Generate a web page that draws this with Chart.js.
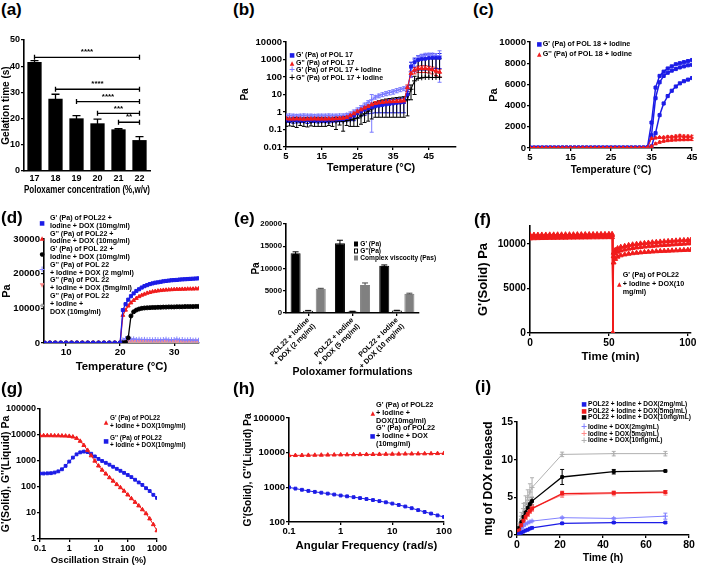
<!DOCTYPE html>
<html lang="en">
<head>
<meta charset="UTF-8">
<title>Poloxamer hydrogel: gelation and rheology</title>
<script src="https://cdn.jsdelivr.net/npm/chart.js"></script>
<style>
  body { margin:0; width:707px; height:567px; position:relative; overflow:hidden; background:#fff;
         font-family:"Liberation Sans", Arial, sans-serif; font-weight:bold; color:#000; }
  canvas { position:absolute; }
  .tag { position:absolute; font-size:17px; line-height:17px; }
  .leg { position:absolute; white-space:nowrap; }
  .it { position:relative; padding-left:var(--pad); }
  .mk { position:absolute; left:var(--mx); top:50%; transform:translate(-50%,-50%);
        font-family:"DejaVu Sans", sans-serif; font-size:6px; line-height:6px; }
  .bx { display:block; width:4px; height:5px; box-sizing:border-box; }
</style>
</head>
<body>
<div class="tag" style="left:1px;top:1px">(a)</div>
<div class="tag" style="left:233px;top:1px">(b)</div>
<div class="tag" style="left:473px;top:1px">(c)</div>
<div class="tag" style="left:1px;top:209px">(d)</div>
<div class="tag" style="left:234px;top:210px">(e)</div>
<div class="tag" style="left:474px;top:211px">(f)</div>
<div class="tag" style="left:1px;top:380px">(g)</div>
<div class="tag" style="left:233px;top:380px">(h)</div>
<div class="tag" style="left:475px;top:378px">(i)</div>

<div class="leg" style="left:290px;top:51px;font-size:7px;line-height:7.7px;--mx:2px;--pad:6px">
  <div class="it"><span class="mk" style="color:#1c1ce6">■</span>G' (Pa) of POL 17</div>
  <div class="it"><span class="mk" style="color:#f01c1c">▲</span>G'' (Pa) of POL 17</div>
  <div class="it"><span class="mk" style="color:#7a7aff;font-size:8px">+</span>G' (Pa) of POL 17 + Iodine</div>
  <div class="it"><span class="mk" style="color:#000;font-size:8px">+</span>G'' (Pa) of POL 17 + Iodine</div>
</div>

<div class="leg" style="left:537px;top:39px;font-size:7.2px;line-height:10px;--mx:2.3px;--pad:5.7px">
  <div class="it"><span class="mk" style="color:#1c1ce6">■</span>G' (Pa) of POL 18 + Iodine</div>
  <div class="it"><span class="mk" style="color:#f01c1c">▲</span>G'' (Pa) of POL 18 + Iodine</div>
</div>

<div class="leg" style="left:40px;top:215px;font-size:7.1px;line-height:7.8px;--mx:2px;--pad:10px">
  <div class="it"><span class="mk" style="color:#1c1ce6">■</span>G' (Pa) of POL22 +<br>Iodine + DOX (10mg/ml)</div>
  <div class="it"><span class="mk" style="color:#f01c1c">▲</span>G'' (Pa) of POL22 +<br>Iodine + DOX (10mg/ml)</div>
  <div class="it"><span class="mk" style="color:#000">●</span>G' (Pa) of POL 22 +<br>Iodine + DOX (10mg/ml)</div>
  <div class="it"><span class="mk" style="color:#8282ff;font-size:8px">+</span>G'' (Pa) of POL 22<br>+ Iodine + DOX (2 mg/ml)</div>
  <div class="it"><span class="mk" style="color:#ff8a8a">▼</span>G'' (Pa) of POL 22<br>+ Iodine + DOX (5mg/ml)</div>
  <div class="it"><span class="mk" style="color:#a8a8a8">◆</span>G'' (Pa) of POL 22<br>+ Iodine +<br>DOX (10mg/ml)</div>
</div>

<div class="leg" style="left:354px;top:240px;font-size:6.6px;line-height:7.2px;--mx:2px;--pad:6.3px">
  <div class="it"><span class="mk"><span class="bx" style="background:#000"></span></span>G' (Pa)</div>
  <div class="it"><span class="mk"><span class="bx" style="background:#fff;border:1px solid #000"></span></span>G''(Pa)</div>
  <div class="it"><span class="mk"><span class="bx" style="background:#808080"></span></span>Complex viscocity (Pas)</div>
</div>

<div class="leg" style="left:617px;top:271px;font-size:7.2px;line-height:8.6px;--mx:2.3px;--pad:5.7px">
  <div class="it"><span class="mk" style="color:#f01c1c">▲</span>G' (Pa) of POL22<br>+ Iodine + DOX(10<br>mg/ml)</div>
</div>

<div class="leg" style="left:104px;top:414px;font-size:6.4px;line-height:7.5px;--mx:2px;--pad:6px">
  <div class="it"><span class="mk" style="color:#f01c1c">▲</span>G' (Pa) of POL22<br>+ Iodine + DOX(10mg/ml)</div>
  <div class="it" style="margin-top:4.5px"><span class="mk" style="color:#1c1ce6">■</span>G'' (Pa) of POL22<br>+ Iodine + DOX(10mg/ml)</div>
</div>

<div class="leg" style="left:370px;top:401px;font-size:7.3px;line-height:7.8px;--mx:2.7px;--pad:6px">
  <div class="it"><span class="mk" style="color:#f01c1c">▲</span>G' (Pa) of POL22<br>+ Iodine +<br>DOX(10mg/ml)</div>
  <div class="it"><span class="mk" style="color:#1c1ce6">■</span>G'' (Pa) of POL22<br>+ Iodine + DOX<br>(10mg/ml)</div>
</div>

<div class="leg" style="left:582px;top:401px;font-size:6.6px;line-height:6.6px;--mx:2px;--pad:6px">
  <div class="it"><span class="mk" style="color:#1c1ce6">■</span>POL22 + Iodine + DOX(2mg/mL)</div>
  <div class="it"><span class="mk" style="color:#f01c1c">■</span>POL22 + Iodine + DOX(5mg/mL)</div>
  <div class="it"><span class="mk" style="color:#000">■</span>POL22 + Iodine + DOX(10mg/mL)</div>
  <div class="it" style="margin-top:3.3px"><span class="mk" style="color:#8282ff;font-size:8px">+</span>Iodine + DOX(2mg/mL)</div>
  <div class="it"><span class="mk" style="color:#ff8a8a;font-size:8px">+</span>Iodine + DOX(5mg/mL)</div>
  <div class="it"><span class="mk" style="color:#b0b0b0;font-size:8px">+</span>Iodine + DOX(10mg/mL)</div>
</div>

<script>
// (a) gelation time
const aConc = ['17', '18', '19', '20', '21', '22'];
const aTime = [41.6, 27.6, 20.1, 18.2, 15.9, 11.8];
const aErr = [0.5, 1.7, 1.0, 1.6, 0.3, 1.3];
const aTicks = [0, 10, 20, 30, 40, 50];
const sigFrom = ['17', '18', '19', '20', '21'];
const sigTo = ['22', '22', '22', '22', '22'];
const sigLevel = [43.4, 31.2, 26.5, 22, 18.6];
const sigText = ['****', '****', '****', '***', '**'];

// (b) POL 17, log scale
const bT = [5,6,7,8,9,10,11,12,13,14,15,16,17,18,19,20,21,22,23,24,25,26,27,28,29,30,31,32,33,34,35,36,37,38,39,40,41,42,43,44,45,46,47,48];
const bGp = [0.36,0.35,0.35,0.34,0.35,0.35,0.34,0.35,0.35,0.34, 0.35,0.35,0.36,0.36,0.37,0.38,0.4,0.45,0.52,0.62, 0.85,1.1,1.35,1.6,1.85,2.1,2.3,2.5,2.7,2.9, 3.1,3.3,3.5,3.7,10,400,700,950,1050,1100, 1200,1250,1250,1250];
const bGpErr = [0.1,0.1,0.12,0.1,0.1,0.1,0.12,0.1,0.1,0.1, 0.1,0.1,0.12,0.1,0.1,0.1,0.12,0.15,0.2,0.3, 0.4,0.5,0.7,0.8,1.0,1.2,1.4,1.6,1.8,2.0, 2.2,2.4,2.6,2.8,5,300,500,700,800,850, 900,950,950,950];
const bGpp = [0.42,0.4,0.4,0.41,0.4,0.39,0.4,0.4,0.41,0.4, 0.4,0.4,0.41,0.4,0.42,0.43,0.45,0.5,0.62,0.8, 1.05,1.35,1.7,2.1,2.6,3.1,3.4,3.6,3.8,3.9, 4.0,4.1,4.2,4.4,25,160,250,300,310,310, 290,260,220,190];
const bGppErr = [0.1,0.1,0.1,0.1,0.1,0.1,0.1,0.1,0.1,0.1, 0.1,0.1,0.1,0.1,0.1,0.1,0.1,0.12,0.15,0.2, 0.3,0.4,0.5,0.6,0.7,0.8,0.9,1,1,1, 1,1.1,1.2,1.3,10,60,100,120,130,130, 120,110,100,90];
const bGpI = [0.6,0.62,0.6,0.58,0.6,0.62,0.6,0.6,0.58,0.6, 0.6,0.6,0.62,0.6,0.6,0.62,0.62,0.68,0.8,1.0, 1.3,1.8,2.5,3.5,5,7,8.5,10,11.5,13, 14.5,17,19.5,22,25,200,700,1200,1500,1750, 1800,1800,1700,1600];
const bGpIErr = [0.15,0.15,0.15,0.15,0.15,0.15,0.15,0.15,0.15,0.15, 0.15,0.15,0.15,0.15,0.15,0.15,0.15,0.15,0.2,0.3, 0.4,0.5,0.7,0.9,4.93,1.5,2,2.5,3,3.5, 4,4.5,5,5.5,6,100,300,400,500,500, 500,500,500,1550];
const bGppI = [0.3,0.28,0.3,0.3,0.29,0.3,0.3,0.28,0.3,0.3, 0.3,0.3,0.29,0.3,0.3,0.3,0.3,0.32,0.35,0.4, 0.45,0.6,0.8,1.1,1.5,2,2.4,2.7,3,3.2, 3.4,3.6,3.8,4,5,20,60,83,90,95, 95,93,95,96];
const bGppIErr = [0.15,0.12,0.15,0.17,0.12,0.15,0.16,0.12,0.15,0.15, 0.15,0.15,0.12,0.15,0.2,0.12,0.22,0.15,0.2,0.25, 0.3,0.4,0.55,0.8,1.1,1.5,1.9,2.2,2.5,2.7, 2.9,3.1,3.3,3.5,4.4,15,50,900,950,1000, 1050,1000,1000,1000];
const bTicksX = [5, 15, 25, 35, 45];
const bTicksY = [0.01, 0.1, 1, 10, 100, 1000, 10000];

// (c) POL 18 + iodine, three runs
const cT = [5,6,7,8,9,10,11,12,13,14,15,16,17,18,19,20,21,22,23,24,25,26,27,28,29,30,31,32,33,34,35,36,37,38,39,40,41,42,43,44,45];
const cGpA = [30,25,30,28,30,32,30,28,30,30, 29,30,31,30,30,28,30,32,30,30, 31,30,29,30,30,31,30,30,32,60, 2400,5700,6800,7200,7500,7700,7900,8000,8100,8200,8300];
const cGpB = [25,28,30,27,30,30,28,29,31,30, 30,29,30,28,30,30,31,30,29,30, 30,31,30,29,30,30,31,30,30,50, 1200,4700,6200,6800,7100,7300,7450,7600,7700,7800,7850];
const cGpC = [20,22,25,24,22,25,23,24,22,25, 24,22,25,23,24,22,25,24,22,25, 23,24,22,25,24,23,22,25,24,30, 150,1400,3100,4200,4900,5400,5800,6100,6300,6450,6600];
const cGppA = [10,12,10,11,10,12,10,11,10,12, 10,11,10,12,10,11,10,12,10,11, 10,12,10,11,10,12,10,11,10,20, 900,950,1000,1000,1050,1050,1100,1150,1100,1100,1100];
const cGppB = [8,9,8,10,8,9,8,10,8,9, 8,10,8,9,8,10,8,9,8,10, 8,9,8,10,8,9,8,10,8,15, 150,400,550,650,700,750,780,800,800,800,800];
const cGppErr = [0,0,0,0,0,0,0,0,0,0, 0,0,0,0,0,0,0,0,0,0, 0,0,0,0,0,0,0,0,0,0, 60,80,90,100,100,110,120,130,120,110,100];
const cTicksX = [5, 15, 25, 35, 45];
const cTicksY = [0, 2000, 4000, 6000, 8000, 10000];

// (d) POL22 + iodine + DOX temperature sweep
const dT = [6,7,8,9,10,11,12,13,14,15,16,17,18,19,20, 20.5,21,21.5,22,22.5,23,23.5,24,24.5,25,25.5,26,26.5,27,27.5,28,28.5,29,29.5,30,30.5,31,31.5,32,32.5,33,33.5,34,34.5];
const dGp10 = [40,35,40,38,40,42,40,38,40,42,40,38,40,45,60, 9500,11200,12500,13500,14300,15000,15500,16000,16400,16700,17000,17200,17400,17500,17650,17800,17900,18000,18100,18150,18200,18300,18350,18400,18450,18500,18550,18600,18650];
const dGpp10 = [30,28,30,32,30,28,30,32,30,28,30,32,30,35,50, 8000,9500,10700,11600,12300,12900,13400,13800,14100,14400,14600,14800,14950,15050,15150,15250,15300,15350,15400,15450,15500,15500,15550,15550,15600,15600,15600,15650,15650];
const dGp10b = [20,22,20,18,20,22,20,18,20,22,20,18,20,22,25, 60,150,1500,7800,9000,9500,9800,10000,10100,10150,10200,10250,10250,10300,10300,10350,10350,10400,10400,10400,10450,10450,10450,10500,10500,10500,10500,10550,10550];
const dGpp2 = [25,28,25,22,25,28,25,22,25,28,25,22,25,28,40, 900,1300,1200,1100,1200,1000,1100,1000,1050,950,1000,900,1000,950,900,1000,1100,900,950,1000,1150,900,1000,850,900,950,800,850,800];
const dGpp5 = [15,18,15,12,15,18,15,12,15,18,15,12,15,18,30, 500,800,750,700,650,700,600,650,700,600,650,600,700,600,650,600,700,650,600,650,600,650,600,550,600,650,600,550,600];
const dGpp10b = [10,12,10,8,10,12,10,8,10,12,10,8,10,12,20, 150,300,250,300,250,200,250,300,200,250,200,250,200,250,200,250,200,250,200,200,250,200,200,250,200,200,250,200,200];
const dTicksX = [10, 20, 30];
const dTicksY = [0, 10000, 20000, 30000];

// (e) moduli and viscosity per formulation
const eLabels = [['POL22 + Iodine', '+ DOX (2 mg/ml)'], ['POL22 + Iodine', '+ DOX (5 mg/ml)'], ['POL22 + Iodine', '+ DOX (10 mg/ml)']];
const eGp = [13450, 15700, 10600];
const eGpErr = [300, 650, 200];
const eGpp = [500, 350, 550];
const eGppErr = [80, 50, 60];
const eVisc = [5450, 6300, 4300];
const eViscErr = [100, 450, 150];
const eTicksY = [0, 5000, 10000, 15000, 20000];

// (f) recovery after high strain
const fT = [0,2.5,5,7.5,10,12.5,15,17.5,20,22.5,25,27.5,30,32.5,35,37.5,40,42.5,45,47.5,50,52,52.5,53,54,55.5,57.5,60,62.5,65,67.5,70,72.5,75,77.5,80,82.5,85,87.5,90,92.5,95,97.5,100,102];
const fA = [10600,10620,10630,10640,10650,10660,10660,10670,10680,10680,10690,10690,10700,10700,10710,10710,10720,10720,10730,10730,10740,10740,0, 7900,8300,8550,8700,8800,8880,8940,8990,9030,9070,9100,9130,9160,9180,9200,9220,9240,9260,9280,9300,9320,9330];
const fB = [10850,10860,10870,10870,10880,10880,10890,10890,10900,10900,10900,10910,10910,10920,10920,10930,10930,10930,10940,10940,10950,10950,0, 8600,8900,9100,9250,9350,9450,9520,9580,9630,9680,9720,9760,9800,9830,9860,9890,9920,9950,9980,10010,10040,10060];
const fC = [11000,11010,11010,11020,11020,11030,11030,11040,11040,11050,11050,11050,11060,11060,11070,11070,11080,11080,11090,11090,11100,11100,0, 9000,9300,9500,9650,9750,9850,9920,9980,10030,10080,10120,10160,10200,10240,10270,10300,10330,10360,10390,10410,10430,10450];
const fTicksX = [0, 50, 100];
const fTicksY = [0, 5000, 10000];

// (g) amplitude sweep
const gX = [0.1,0.133,0.178,0.237,0.316,0.422,0.562,0.75,1,1.33,1.78,2.37,3.16,4.22,5.62,7.5,10,13.3,17.8,23.7,31.6,42.2,56.2,75,100,133,178,237,316,422,562,750,1000];
const gGp = [9500,9500,9500,9500,9400,9400,9300,9200, 9000,8500,7500,5800,4000,2600,1600,1000, 650,450,320,230,170,125,95,70, 50,36,26,19,13.5,9.5,6,3.6, 2.1];
const gGpp = [330,330,335,340,360,400,480,650, 950,1350,1800,2150,2300,2200,1900,1500, 1200,1000,850,720,600,500,420,350, 290,240,190,150,120,90,70,50, 38];
const gTicksX = [0.1, 1, 10, 100, 1000];
const gTicksY = [1, 10, 100, 1000, 10000, 100000];

// (h) frequency sweep
const hX = [0.1,0.133,0.178,0.237,0.316,0.422,0.562,0.75,1,1.33,1.78,2.37,3.16,4.22,5.62,7.5,10,13.3,17.8,23.7,31.6,42.2,56.2,75,100];
const hGp = [8300,8350,8400,8450,8500,8550,8600,8650,8700,8750,8800,8850,8900,8950,9000,9050,9100,9150,9200,9250,9300,9350,9400,9500,9600];
const hGpp = [1000,920,850,790,740,700,660,620,580,550,520,490,460,430,400,370,340,310,280,250,220,195,175,155,140];
const hTicksX = [0.1, 1, 10, 100];
const hTicksY = [100, 1000, 10000, 100000];

// (i) DOX release
const iT = [0, 1, 2, 3, 4, 5, 6, 7, 21, 45, 69];
const iPol2 = [0, 0.15, 0.3, 0.45, 0.6, 0.7, 0.85, 0.95, 1.55, 1.65, 1.65];
const iPol2Err = [0, 0.05, 0.05, 0.05, 0.05, 0.05, 0.05, 0.05, 0.1, 0.1, 0.1];
const iPol5 = [0, 0.6, 1.3, 1.9, 2.4, 2.8, 3.2, 3.5, 5.5, 5.6, 5.7];
const iPol5Err = [0, 0.2, 0.3, 0.3, 0.3, 0.3, 0.3, 0.3, 0.3, 0.2, 0.2];
const iPol10 = [0, 0.9, 1.7, 2.4, 3.0, 3.6, 4.1, 4.5, 7.7, 8.4, 8.5];
const iPol10Err = [0, 0.3, 0.4, 0.5, 0.5, 0.5, 0.5, 0.5, 1.0, 0.3, 0.1];
const iDox2 = [0, 0.5, 0.9, 1.2, 1.45, 1.6, 1.75, 1.85, 2.3, 2.2, 2.5];
const iDox2Err = [0, 0.1, 0.1, 0.1, 0.1, 0.1, 0.1, 0.1, 0.1, 0.1, 0.4];
const iDox5 = [0, 0.7, 1.4, 2.0, 2.5, 2.9, 3.3, 3.6, 5.3, 5.5, 5.6];
const iDox5Err = [0, 0.3, 0.3, 0.4, 0.4, 0.4, 0.4, 0.4, 0.3, 0.3, 0.3];
const iDox10 = [0, 1.3, 2.5, 3.5, 4.3, 5.0, 5.7, 6.3, 10.7, 10.8, 10.8];
const iDox10Err = [0, 0.3, 0.5, 0.7, 0.9, 1.0, 1.1, 1.3, 0.3, 0.3, 0.3];
const iTicksX = [0, 20, 40, 60, 80];
const iTicksY = [0, 5, 10, 15];

const BLUE = '#1c1ce6', RED = '#f01c1c', LBLUE = '#8282ff', PINK = '#ff8a8a', GRAY = '#b0b0b0';

Chart.defaults.font.family = '"Liberation Sans", Arial, sans-serif';
Chart.defaults.font.weight = 'bold';
Chart.defaults.color = '#000';
Chart.defaults.animation = false;

// error bars read from dataset.errors, drawn through the dataset's y scale
const errorBars = {
  id: 'errorBars',
  beforeDatasetsDraw(chart, args, opts) {
    const ctx = chart.ctx, area = chart.chartArea;
    ctx.save();
    ctx.beginPath();
    ctx.rect(area.left, area.top - 3, area.right - area.left + 3, area.bottom - area.top + 3);
    ctx.clip();
    chart.data.datasets.forEach((ds, i) => {
      if (!ds.errors) return;
      const meta = chart.getDatasetMeta(i);
      const ys = chart.scales[meta.yAxisID];
      const isLog = ys.type === 'logarithmic';
      const c = (opts.cap || 4) / 2;
      ctx.strokeStyle = ds.errorColor || ds.borderColor;
      ctx.lineWidth = opts.width || 1;
      meta.data.forEach((pt, j) => {
        const e = ds.errors[j];
        if (!e) return;
        const d = ds.data[j];
        const v = typeof d === 'object' ? d.y : d;
        const top = ys.getPixelForValue(v + e);
        const hasLow = !isLog || v - e > 0;
        const bot = hasLow ? ys.getPixelForValue(Math.max(v - e, ys.min)) : pt.y;
        ctx.beginPath();
        ctx.moveTo(pt.x, top); ctx.lineTo(pt.x, bot);
        ctx.moveTo(pt.x - c, top); ctx.lineTo(pt.x + c, top);
        if (hasLow) { ctx.moveTo(pt.x - c, bot); ctx.lineTo(pt.x + c, bot); }
        ctx.stroke();
      });
    });
    ctx.restore();
  }
};

// significance brackets for (a)
const sigBars = {
  id: 'sigBars',
  afterDatasetsDraw(chart) {
    const {ctx, scales: {x, y}} = chart;
    ctx.save();
    ctx.strokeStyle = '#000';
    ctx.fillStyle = '#000';
    ctx.lineWidth = 1.3;
    ctx.font = 'bold 8px "Liberation Sans", Arial';
    ctx.textAlign = 'center';
    ctx.textBaseline = 'bottom';
    sigFrom.forEach((from, i) => {
      const x0 = x.getPixelForValue(aConc.indexOf(from));
      const x1 = x.getPixelForValue(aConc.indexOf(sigTo[i]));
      const yy = y.getPixelForValue(sigLevel[i]);
      ctx.beginPath();
      ctx.moveTo(x0, yy); ctx.lineTo(x1, yy);
      ctx.moveTo(x0, yy - 2.5); ctx.lineTo(x0, yy + 2.5);
      ctx.moveTo(x1, yy - 2.5); ctx.lineTo(x1, yy + 2.5);
      ctx.stroke();
      ctx.fillText(sigText[i], (x0 + x1) / 2, yy - 1);
    });
    ctx.restore();
  }
};

function ax(type, min, max, ticks, title, tsz, fsz) {
  return {
    type: type, min: min, max: max,
    afterBuildTicks: s => { s.ticks = ticks.map(v => ({ value: v })); },
    ticks: { font: { size: tsz }, color: '#000', padding: 1, maxRotation: 0, autoSkip: false, callback: v => String(v) },
    grid: { drawOnChartArea: false, color: '#000', lineWidth: 1.3, tickLength: 3 },
    border: { color: '#000', width: 1.6 },
    title: { display: true, text: title, font: { size: fsz }, color: '#000', padding: 0 }
  };
}

function catAxis(title, tsz, fsz, extra) {
  return Object.assign({
    type: 'category', offset: true,
    ticks: { font: { size: tsz }, color: '#000', padding: 2, autoSkip: false, maxRotation: 0 },
    grid: { drawOnChartArea: false, drawTicks: false },
    border: { color: '#000', width: 1.6 },
    title: { display: true, text: title, font: { size: fsz }, color: '#000', padding: 0 }
  }, extra || {});
}

function series(xs, ys, color, style, extra) {
  return Object.assign({
    data: xs.map((x, i) => ({ x: x, y: ys[i] })),
    borderColor: color, backgroundColor: color,
    borderWidth: 1, pointStyle: style, pointRadius: 2, pointBorderWidth: 1,
    tension: 0, fill: false
  }, extra || {});
}

// box = canvas [left, top, right, bottom], plot = chart area [left, top, right, bottom], page pixels
function place(box, plot, cfg) {
  const c = document.createElement('canvas');
  const w = box[2] - box[0], h = box[3] - box[1];
  c.width = w; c.height = h;
  c.style.left = box[0] + 'px'; c.style.top = box[1] + 'px';
  c.style.width = w + 'px'; c.style.height = h + 'px';
  document.body.insertBefore(c, document.body.firstChild);
  const o = cfg.options;
  o.responsive = false;
  o.layout = { padding: { left: 0, bottom: 0, top: plot[1] - box[1], right: box[2] - plot[2] } };
  o.plugins = Object.assign({ legend: { display: false }, tooltip: { enabled: false } }, o.plugins || {});
  const zero = s => { s.paddingLeft = 0; s.paddingRight = 0; s.paddingTop = 0; s.paddingBottom = 0; };
  o.scales.x.afterFit = s => { s.height = box[3] - plot[3]; zero(s); };
  o.scales.y.afterFit = s => { s.width = plot[0] - box[0]; zero(s); };
  return new Chart(c, cfg);
}

// (a)
place([0, 24, 236, 196], [24, 40, 150, 171], {
  type: 'bar',
  data: { labels: aConc, datasets: [{ data: aTime, errors: aErr, backgroundColor: '#000', borderColor: '#000', barPercentage: 0.68, categoryPercentage: 1 }] },
  options: {
    scales: { x: catAxis('Poloxamer concentration (%,w/v)', 9, 10), y: ax('linear', 0, 50, aTicks, 'Gelation time (s)', 9, 10) },
    plugins: { errorBars: { cap: 8, width: 1.3 } }
  },
  plugins: [errorBars, sigBars]
});

// (b)
place([239, 20, 471, 175], [286, 42, 456, 147], {
  type: 'line',
  data: { datasets: [
    series(bT, bGpp, RED, 'triangle', { errors: bGppErr, pointRadius: 2.3 }),
    series(bT, bGp, BLUE, 'rect', { errors: bGpErr }),
    series(bT, bGpI, '#7a7aff', 'cross', { errors: bGpIErr, pointRadius: 2.5 }),
    series(bT, bGppI, '#000', 'cross', { errors: bGppIErr, pointRadius: 2.5 })
  ] },
  options: {
    scales: { x: ax('linear', 5, 52.6, bTicksX, 'Temperature (°C)', 9.5, 11), y: ax('logarithmic', 0.01, 10000, bTicksY, 'Pa', 9.5, 10) },
    plugins: { errorBars: { cap: 4 } }
  },
  plugins: [errorBars]
});

// (c)
place([487, 20, 707, 176], [530, 42, 692, 148], {
  type: 'line',
  data: { datasets: [
    series(cT, cGppA, RED, 'triangle', { errors: cGppErr }),
    series(cT, cGppB, RED, 'triangle', { errors: cGppErr }),
    series(cT, cGpA, BLUE, 'rect', { borderWidth: 1.5, pointRadius: 2.2 }),
    series(cT, cGpB, BLUE, 'rect', { borderWidth: 1.5, pointRadius: 2.2 }),
    series(cT, cGpC, BLUE, 'rect', { borderWidth: 1.5, pointRadius: 2.2 })
  ] },
  options: {
    scales: { x: ax('linear', 5, 45, cTicksX, 'Temperature (°C)', 9.6, 10), y: ax('linear', 0, 10000, cTicksY, 'Pa', 9.6, 11) },
    plugins: { errorBars: { cap: 3 } }
  },
  plugins: [errorBars]
});

// (d)
place([0, 225, 236, 374], [44, 239, 199, 343], {
  type: 'line',
  data: { datasets: [
    series(dT, dGp10, BLUE, 'rect', { pointRadius: 2.2, borderWidth: 1.3 }),
    series(dT, dGpp10, RED, 'triangle', { pointRadius: 2.2, borderWidth: 1.3 }),
    series(dT, dGp10b, '#000', 'circle', { pointRadius: 2, borderWidth: 1.3 }),
    series(dT, dGpp2, LBLUE, 'cross', { pointRadius: 2.5 }),
    series(dT, dGpp5, PINK, 'triangle', { pointRotation: 180 }),
    series(dT, dGpp10b, GRAY, 'rectRot')
  ] },
  options: {
    scales: { x: ax('linear', 5.9, 34.6, dTicksX, 'Temperature (°C)', 9.6, 11.4), y: ax('linear', 0, 30000, dTicksY, 'Pa', 9.6, 11) }
  }
});

// (e)
place([250, 205, 471, 378], [286, 224, 419, 313], {
  type: 'bar',
  data: { labels: eLabels, datasets: [
    { data: eGp, errors: eGpErr, backgroundColor: '#000', borderColor: '#000', borderWidth: 1 },
    { data: eGpp, errors: eGppErr, backgroundColor: '#fff', borderColor: '#000', borderWidth: 1 },
    { data: eVisc, errors: eViscErr, backgroundColor: '#808080', borderColor: '#808080', borderWidth: 1, errorColor: '#444' }
  ] },
  options: {
    datasets: { bar: { barPercentage: 0.8, categoryPercentage: 0.85 } },
    scales: {
      x: catAxis('Poloxamer formulations', 7.2, 10.5, {
        ticks: { font: { size: 7.2 }, color: '#000', padding: 0, autoSkip: false, minRotation: 45, maxRotation: 45 },
        grid: { drawOnChartArea: false, offset: false, color: '#000', lineWidth: 1.3, tickLength: 3 }
      }),
      y: ax('linear', 0, 20000, eTicksY, 'Pa', 7.8, 10)
    },
    plugins: { errorBars: { cap: 6 } }
  },
  plugins: [errorBars]
});

// (f)
place([476, 205, 707, 364], [530, 226, 691, 333], {
  type: 'line',
  data: { datasets: [
    series(fT, fA, RED, 'triangle', { pointRadius: 2.8 }),
    series(fT, fB, RED, 'triangle', { pointRadius: 2.8 }),
    series(fT, fC, RED, 'triangle', { pointRadius: 2.8 })
  ] },
  options: {
    scales: { x: ax('linear', 0, 102, fTicksX, 'Time (min)', 10.2, 11.5), y: ax('linear', 0, 12000, fTicksY, "G'(Solid) Pa", 10.2, 13) }
  }
});

// (g)
place([0, 395, 236, 566], [40, 409, 157, 539], {
  type: 'line',
  data: { datasets: [
    series(gX, gGp, RED, 'triangle', { pointRadius: 2.3 }),
    series(gX, gGpp, BLUE, 'rect', { pointRadius: 2 })
  ] },
  options: {
    scales: { x: ax('logarithmic', 0.1, 1000, gTicksX, 'Oscillation Strain (%)', 9, 9.5), y: ax('logarithmic', 1, 100000, gTicksY, "G'(Solid), G''(Liquid) Pa", 9, 10.5) }
  }
});

// (h)
place([242, 398, 471, 553], [289, 418, 444, 522], {
  type: 'line',
  data: { datasets: [
    series(hX, hGp, RED, 'triangle', { pointRadius: 2.3 }),
    series(hX, hGpp, BLUE, 'rect', { pointRadius: 2 })
  ] },
  options: {
    scales: { x: ax('logarithmic', 0.1, 100, hTicksX, 'Angular Frequency (rad/s)', 9.5, 11.4), y: ax('logarithmic', 100, 100000, hTicksY, "G'(Solid), G''(Liquid) Pa", 9.5, 10.2) }
  }
});

// (i)
place([481, 398, 707, 564], [517, 422, 689, 535], {
  type: 'line',
  data: { datasets: [
    series(iT, iPol2, BLUE, 'rect', { errors: iPol2Err, borderWidth: 1.3 }),
    series(iT, iPol5, RED, 'rect', { errors: iPol5Err, borderWidth: 1.3 }),
    series(iT, iPol10, '#000', 'rect', { errors: iPol10Err, borderWidth: 1.3 }),
    series(iT, iDox2, LBLUE, 'cross', { errors: iDox2Err, pointRadius: 2.5 }),
    series(iT, iDox5, PINK, 'cross', { errors: iDox5Err, pointRadius: 2.5 }),
    series(iT, iDox10, GRAY, 'cross', { errors: iDox10Err, pointRadius: 2.5 })
  ] },
  options: {
    scales: { x: ax('linear', 0, 80, iTicksX, 'Time (h)', 10.5, 10.5), y: ax('linear', 0, 15, iTicksY, 'mg of DOX released', 10.5, 12) },
    plugins: { errorBars: { cap: 4 } }
  },
  plugins: [errorBars]
});
</script>
</body>
</html>
